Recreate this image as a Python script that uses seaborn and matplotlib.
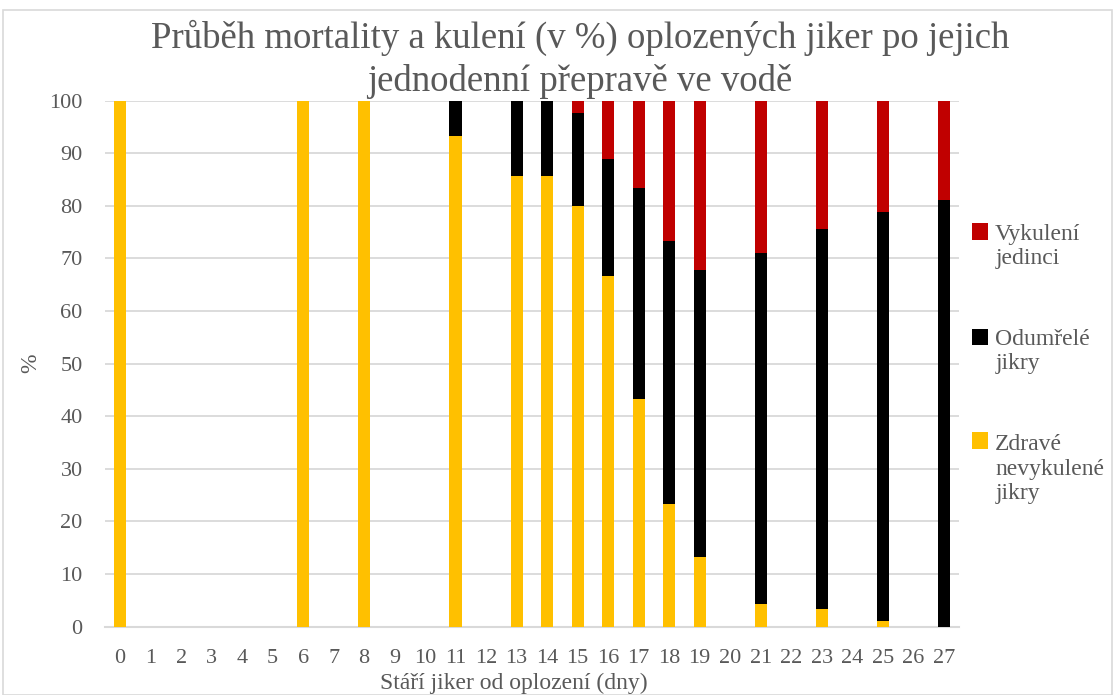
import matplotlib
matplotlib.use("Agg")
import matplotlib.pyplot as plt
from matplotlib.patches import Patch, Rectangle
from matplotlib.legend_handler import HandlerPatch
import seaborn as sns
import pandas as pd

#######################
# DATA
#######################

all_days = [str(d) for d in range(28)]
days = ["0", "6", "8", "11", "13", "14", "15", "16", "17", "18", "19", "21", "23", "25", "27"]
healthy = [100, 100, 100, 93.3, 85.7, 85.7, 80.0, 66.7, 43.3, 23.3, 13.3, 4.4, 3.3, 1.1, 0]
dead = [0, 0, 0, 6.7, 14.3, 14.3, 17.7, 22.2, 40.0, 50.0, 54.5, 66.6, 72.3, 77.7, 81.1]
hatched = [0, 0, 0, 0, 0, 0, 2.3, 11.1, 16.7, 26.7, 32.2, 29.0, 24.4, 21.2, 18.9]

labels = ["Vykulení\njedinci", "Odumřelé\njikry", "Zdravé\nnevykulené\njikry"]
colors = ["#C00000", "#000000", "#FFC000"]

df = pd.DataFrame({"day": days, "healthy": healthy, "dead": dead, "hatched": hatched})
df["top_dead"] = df["healthy"] + df["dead"]
df["top_all"] = df["top_dead"] + df["hatched"]

#######################
# PLOT
#######################

sns.set_theme(style="white")
plt.rcParams["font.family"] = ["Liberation Serif", "DejaVu Serif"]
grey = "#595959"

fig = plt.figure(figsize=(11.15, 6.95), dpi=100)
ax = fig.add_axes([0.094, 0.0983, 0.766, 0.757])

# stacked bars: draw cumulative heights, largest first
for col, c in zip(["top_all", "top_dead", "healthy"], colors):
    sns.barplot(data=df, x="day", y=col, order=all_days, color=c, saturation=1,
                width=0.4, linewidth=0, ax=ax, zorder=3)

ax.set_ylim(0, 100)
ax.set_xlim(-0.5, 27.5)
ax.set_yticks(range(0, 101, 10))
ax.yaxis.grid(True, color="#d9d9d9", linewidth=1.3, zorder=0)
ax.set_axisbelow(True)
for s in ["left", "right", "top"]:
    ax.spines[s].set_visible(False)
ax.spines["bottom"].set_color("#d9d9d9")
ax.spines["bottom"].set_linewidth(1.5)
ax.tick_params(axis="both", length=0, labelsize=16, colors=grey)
ax.tick_params(axis="y", pad=16)
ax.tick_params(axis="x", pad=16)

ax.set_xlabel("Stáří jiker od oplození (dny)", fontsize=17, color=grey)
ax.xaxis.set_label_coords(0.479, -0.088)
ax.set_ylabel("%", fontsize=17, color=grey, labelpad=6)

fig.text(0.52, 0.972, "Průběh mortality a kulení (v %) oplozených jiker po jejich\njednodenní přepravě ve vodě",
         ha="center", va="top", fontsize=26.5, color=grey, linespacing=1.3)


# legend squares sit next to the first line of each label
def top_square(legend, orig_handle, xdescent, ydescent, width, height, fontsize):
    n = orig_handle.get_label().count("\n")
    return Rectangle((-xdescent, -ydescent + n * 0.6 * fontsize), width, height)


handles = [Patch(facecolor=c, edgecolor="none", label=l) for c, l in zip(colors, labels)]
ax.legend(handles=handles, loc="center left", bbox_to_anchor=(0.99, 0.5), frameon=False,
          fontsize=17, labelcolor=grey, labelspacing=2.55, handlelength=0.7, handleheight=0.7,
          handletextpad=0.3, handler_map={Patch: HandlerPatch(patch_func=top_square)})

# chart border
fig.patches.append(Rectangle((0.003, 0.0), 0.994, 0.985, transform=fig.transFigure,
                             fill=False, edgecolor="#d9d9d9", linewidth=1.2))

fig.savefig("out.png", dpi=100)
